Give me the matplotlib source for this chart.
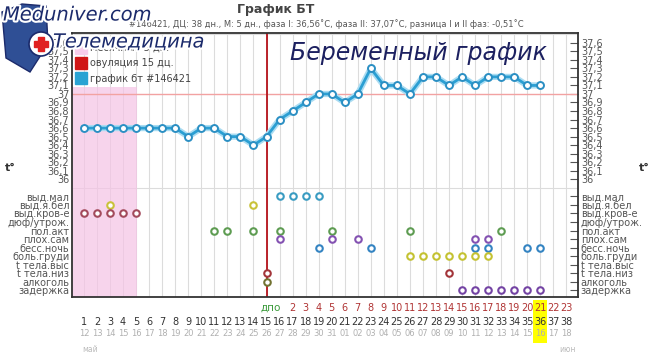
import matplotlib
matplotlib.use('Agg')
import matplotlib.pyplot as plt
import matplotlib.patheffects as pe
from matplotlib.patches import Rectangle, Polygon, Ellipse
from matplotlib.lines import Line2D
from matplotlib.transforms import blended_transform_factory

# cycle days and temperatures
days = list(range(1, 39))
temp_days = list(range(1, 37))
temps = [36.6, 36.6, 36.6, 36.6, 36.6, 36.6, 36.6, 36.6, 36.5, 36.6,
         36.6, 36.5, 36.5, 36.4, 36.5, 36.7, 36.8, 36.9, 37.0, 37.0,
         36.9, 37.0, 37.3, 37.1, 37.1, 37.0, 37.2, 37.2, 37.1, 37.2,
         37.1, 37.2, 37.2, 37.2, 37.1, 37.1]

temp_ticks = [36.0, 36.1, 36.2, 36.3, 36.4, 36.5, 36.6, 36.7, 36.8,
              36.9, 37.0, 37.1, 37.2, 37.3, 37.4, 37.5, 37.6]

# symptom rows (top to bottom) and the days marked in each
symptom_names = ['выд.мал', 'выд.я.бел', 'выд.кров-е', 'дюф/утрож.', 'пол.акт',
                 'плох.сам', 'бесс.ночь', 'боль.груди', 't тела.выс', 't тела.низ',
                 'алкоголь', 'задержка']
symptom_days = [[16, 17, 18, 19],
                [3, 14],
                [1, 2, 3, 4, 5],
                [],
                [11, 12, 14, 16, 20, 26, 33],
                [16, 20, 22, 31, 32],
                [19, 23, 31, 32, 35, 36],
                [26, 27, 28, 29, 30, 31, 32],
                [],
                [15, 29],
                [15],
                [30, 31, 32, 33, 34, 35, 36]]
symptom_colors = ['#3a9cc2', '#c9c23a', '#a34a5c', '#888888', '#5e9c52',
                  '#8452b2', '#3484c2', '#c4c232', '#a03030', '#a3353a',
                  '#727232', '#7444a4']

dpo_days = list(range(16, 39))
dpo_labels = ['дпо', '2', '3', '4', '5', '6', '7', '8', '9', '10', '11', '12',
              '13', '14', '15', '16', '17', '18', '19', '20', '21', '22', '23']
date_labels = ['12', '13', '14', '15', '16', '17', '18', '19', '20', '21',
               '22', '23', '24', '25', '26', '27', '28', '29', '30', '31',
               '01', '02', '03', '04', '05', '06', '07', '08', '09', '10',
               '11', '12', '13', '14', '15', '16', '17', '18']
today = 36

fig = plt.figure(figsize=(6.5, 3.57), dpi=100)
ax = fig.add_axes([0.1108, 0.1667, 0.7785, 0.741])
ax.set_xlim(0.08, 38.9)
ax.set_ylim(34.615, 37.715)

row_y = [round(35.8 - 0.1 * i, 1) for i in range(len(symptom_names))]

# grid
ax.set_xticks(days)
ax.set_yticks([round(34.7 + 0.1 * k, 1) for k in range(31)], minor=True)
ax.set_axisbelow(True)
ax.grid(axis='x', which='major', color='#dcdcdc', lw=0.8)
ax.grid(axis='y', which='minor', color='#dcdcdc', lw=0.8)

# menstruation shading, 37 line and ovulation line
ax.axvspan(0.08, 5.08, ymin=0, ymax=(37.08 - 34.615) / (37.715 - 34.615),
           color='#f5c3e5', alpha=0.7, lw=0, zorder=1)
ax.axhline(37.0, color='#f2a2a2', lw=1, zorder=1.5)
ax.axvline(15, color='#b5121b', lw=1.3, zorder=2)

# temperature curve
ax.plot(temp_days, temps, color='#aadcf2', lw=4.5, zorder=3, solid_joinstyle='round')
ax.plot(temp_days, temps, color='#2b9fd3', lw=2.0, marker='o', ms=5,
        mfc='white', mec='#2b8fc3', mew=1.4, zorder=4)

# symptoms
for y, marks, col in zip(row_y, symptom_days, symptom_colors):
    if marks:
        ax.scatter(marks, [y] * len(marks), s=22, facecolors='white',
                   edgecolors=col, linewidths=1.5, zorder=5)

# axes labels
ylabels = [('%.1f' % t).replace('.', ',').replace(',0', '') for t in temp_ticks]
ax.set_yticks(temp_ticks + row_y)
ax.set_yticklabels(ylabels + symptom_names)
ax.tick_params(axis='y', which='major', left=False, right=True, direction='in',
               length=6, labelleft=True, labelright=True, pad=2,
               labelsize=7, labelcolor='#555555', color='#555555')
ax.tick_params(axis='x', which='major', length=0, labelbottom=False)
ax.tick_params(which='minor', length=0)
for s in ax.spines.values():
    s.set_color('#333333')
    s.set_linewidth(1.3)

# legend
handles = [Line2D([], [], ls='', marker='s', ms=8, mfc='#f7cdea', mec='#f7cdea'),
           Line2D([], [], ls='', marker='s', ms=8, mfc='#d01515', mec='#d01515'),
           Line2D([], [], ls='', marker='s', ms=8, mfc='#2aa3d3', mec='#2aa3d3')]
ax.legend(handles, ['месячные 5 дн.', 'овуляция 15 дц.', 'график бт #146421'],
          loc='upper left', bbox_to_anchor=(0.008, 0.962), frameon=False,
          fontsize=7, labelcolor='#444444', borderpad=0, borderaxespad=0,
          handlelength=1.0, handletextpad=0.4, labelspacing=0.55)

# labels under the chart
trans = blended_transform_factory(ax.transData, fig.transFigure)
ax.add_patch(Rectangle((today - 0.54, 1 - 343 / 357), 1.08, 43 / 357,
                       transform=trans, color='#ffff00', lw=0, zorder=0,
                       clip_on=False))
for d, lab in zip(dpo_days, dpo_labels):
    if lab == 'дпо':
        ax.text(d + 0.1, 0.137, lab, transform=trans, ha='right', va='center',
                fontsize=7.5, color='#3a9a3a', clip_on=False)
    else:
        ax.text(d, 0.137, lab, transform=trans, ha='center', va='center',
                fontsize=7, color='#b03434', clip_on=False)
for d in days:
    ax.text(d, 0.098, str(d), transform=trans, ha='center', va='center',
            fontsize=7, color='#333333', clip_on=False)
for d, lab in zip(days, date_labels):
    ax.text(d, 0.067, lab, transform=trans, ha='center', va='center',
            fontsize=6, color='#b0b0b0', clip_on=False)
fig.text(82 / 650, 0.022, 'май', ha='left', va='center', fontsize=5.5, color='#bbbbbb')
fig.text(567 / 650, 0.022, 'июн', ha='center', va='center', fontsize=5.5, color='#bbbbbb')

fig.text(0.008, 0.53, 't°', ha='left', va='center', fontsize=8, fontweight='bold', color='#333333')
fig.text(0.983, 0.53, 't°', ha='left', va='center', fontsize=8, fontweight='bold', color='#333333')

# titles
fig.text(276 / 650, 0.973, 'График БТ', ha='center', va='center',
         fontsize=9, fontweight='bold', color='#444444')
fig.text(326 / 650, 0.933,
         '#146421, ДЦ: 38 дн., М: 5 дн., фаза I: 36,56˚C, фаза II: 37,07˚C, разница I и II фаз: -0,51˚C',
         ha='center', va='center', fontsize=6, color='#555555')
fig.text(290 / 650, 1 - 53 / 357, 'Беременный график', ha='left', va='center',
         fontsize=17, style='italic', color='#1c2060')

# watermark logo
fig.patches.append(Polygon([(2 / 650, 1 - 12 / 357), (22 / 650, 1 - 4 / 357),
                            (46 / 650, 1 - 6 / 357), (48 / 650, 1 - 44 / 357),
                            (30 / 650, 1 - 72 / 357), (6 / 650, 1 - 58 / 357)],
                           closed=True, transform=fig.transFigure,
                           facecolor='#2f4f95', edgecolor='#1b2a6b', lw=1, zorder=5))
fig.patches.append(Ellipse((41 / 650, 1 - 44 / 357), 24 / 650, 24 / 357,
                           transform=fig.transFigure, facecolor='white',
                           edgecolor='#1b2a6b', lw=1.2, zorder=6))
fig.patches.append(Rectangle((34 / 650, 1 - 47 / 357), 14 / 650, 6 / 357,
                             transform=fig.transFigure, color='#e02020', zorder=7))
fig.patches.append(Rectangle((38 / 650, 1 - 51 / 357), 6 / 650, 14 / 357,
                             transform=fig.transFigure, color='#e02020', zorder=7))
outline = [pe.withStroke(linewidth=3, foreground='white')]
fig.text(3 / 650, 1 - 15 / 357, 'Meduniver.com', ha='left', va='center',
         fontsize=14, style='italic', color='#1b2a6b', path_effects=outline, zorder=8)
fig.text(53 / 650, 1 - 42 / 357, 'Телемедицина', ha='left', va='center',
         fontsize=14, style='italic', color='#1b2a6b', path_effects=outline, zorder=8)

fig.savefig('out.png', dpi=100)
